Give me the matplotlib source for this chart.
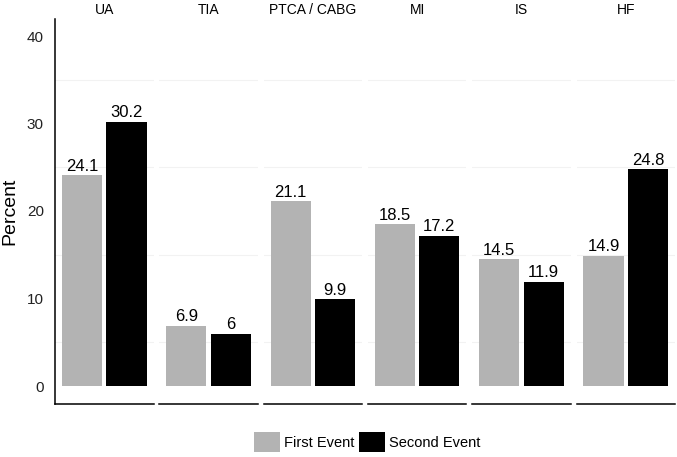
import matplotlib
matplotlib.use('Agg')
import matplotlib.pyplot as plt
from matplotlib.patches import Patch

# data
events = ['UA', 'TIA', 'PTCA / CABG', 'MI', 'IS', 'HF']
first_event = [24.1, 6.9, 21.1, 18.5, 14.5, 14.9]
second_event = [30.2, 6, 9.9, 17.2, 11.9, 24.8]
series_names = ['First Event', 'Second Event']
series_colors = ['#b3b3b3', '#000000']
y_ticks = [0, 10, 20, 30, 40]

plt.rcParams['font.family'] = ['Liberation Sans', 'DejaVu Sans']

W, H = 677, 457
fig = plt.figure(figsize=(W / 100, H / 100), dpi=100)

# panel geometry in pixels
left0 = 55
panel_w = 98.5
gap = 5.8
top_px = 18.5
bottom_px = 403.5

for i, ev in enumerate(events):
    x0 = left0 + i * (panel_w + gap)
    ax = fig.add_axes([x0 / W, (H - bottom_px) / H, panel_w / W,
                       (bottom_px - top_px) / H])
    vals = [first_event[i], second_event[i]]
    xs = [-0.27, 0.27]
    for x, v, c in zip(xs, vals, series_colors):
        ax.bar(x, v, width=0.49, color=c, zorder=3)
        ax.annotate('%g' % v, (x, v), xytext=(0, 1), textcoords='offset points',
                    ha='center', va='bottom', fontsize=12, color='black')
    ax.set_xlim(-0.6, 0.6)
    ax.set_ylim(-2, 42)
    # faint minor grid lines
    for g in [5, 15, 25, 35]:
        ax.axhline(g, color='#f2f2f2', linewidth=0.8, zorder=1)
    ax.set_xticks([])
    for s in ['top', 'right']:
        ax.spines[s].set_visible(False)
    ax.spines['bottom'].set_linewidth(1.1)
    if i == 0:
        ax.spines['left'].set_linewidth(1.1)
        ax.set_yticks(y_ticks)
        ax.tick_params(axis='y', length=0, pad=8, labelsize=11, labelcolor='#222222')
        ax.set_ylabel('Percent', fontsize=14, labelpad=6)
    else:
        ax.spines['left'].set_visible(False)
        ax.set_yticks([])
    ax.set_title(ev, fontsize=10, pad=3.5)

handles = [Patch(facecolor=c, edgecolor='none', label=n)
           for c, n in zip(series_colors, series_names)]
fig.legend(handles=handles, loc='center', ncol=2, frameon=False,
           bbox_to_anchor=(367 / W, 15 / H), fontsize=10.5,
           handlelength=1.78, handleheight=1.78, handletextpad=0.27,
           columnspacing=0.34, borderaxespad=0, borderpad=0)

fig.savefig('out.png', dpi=100)
